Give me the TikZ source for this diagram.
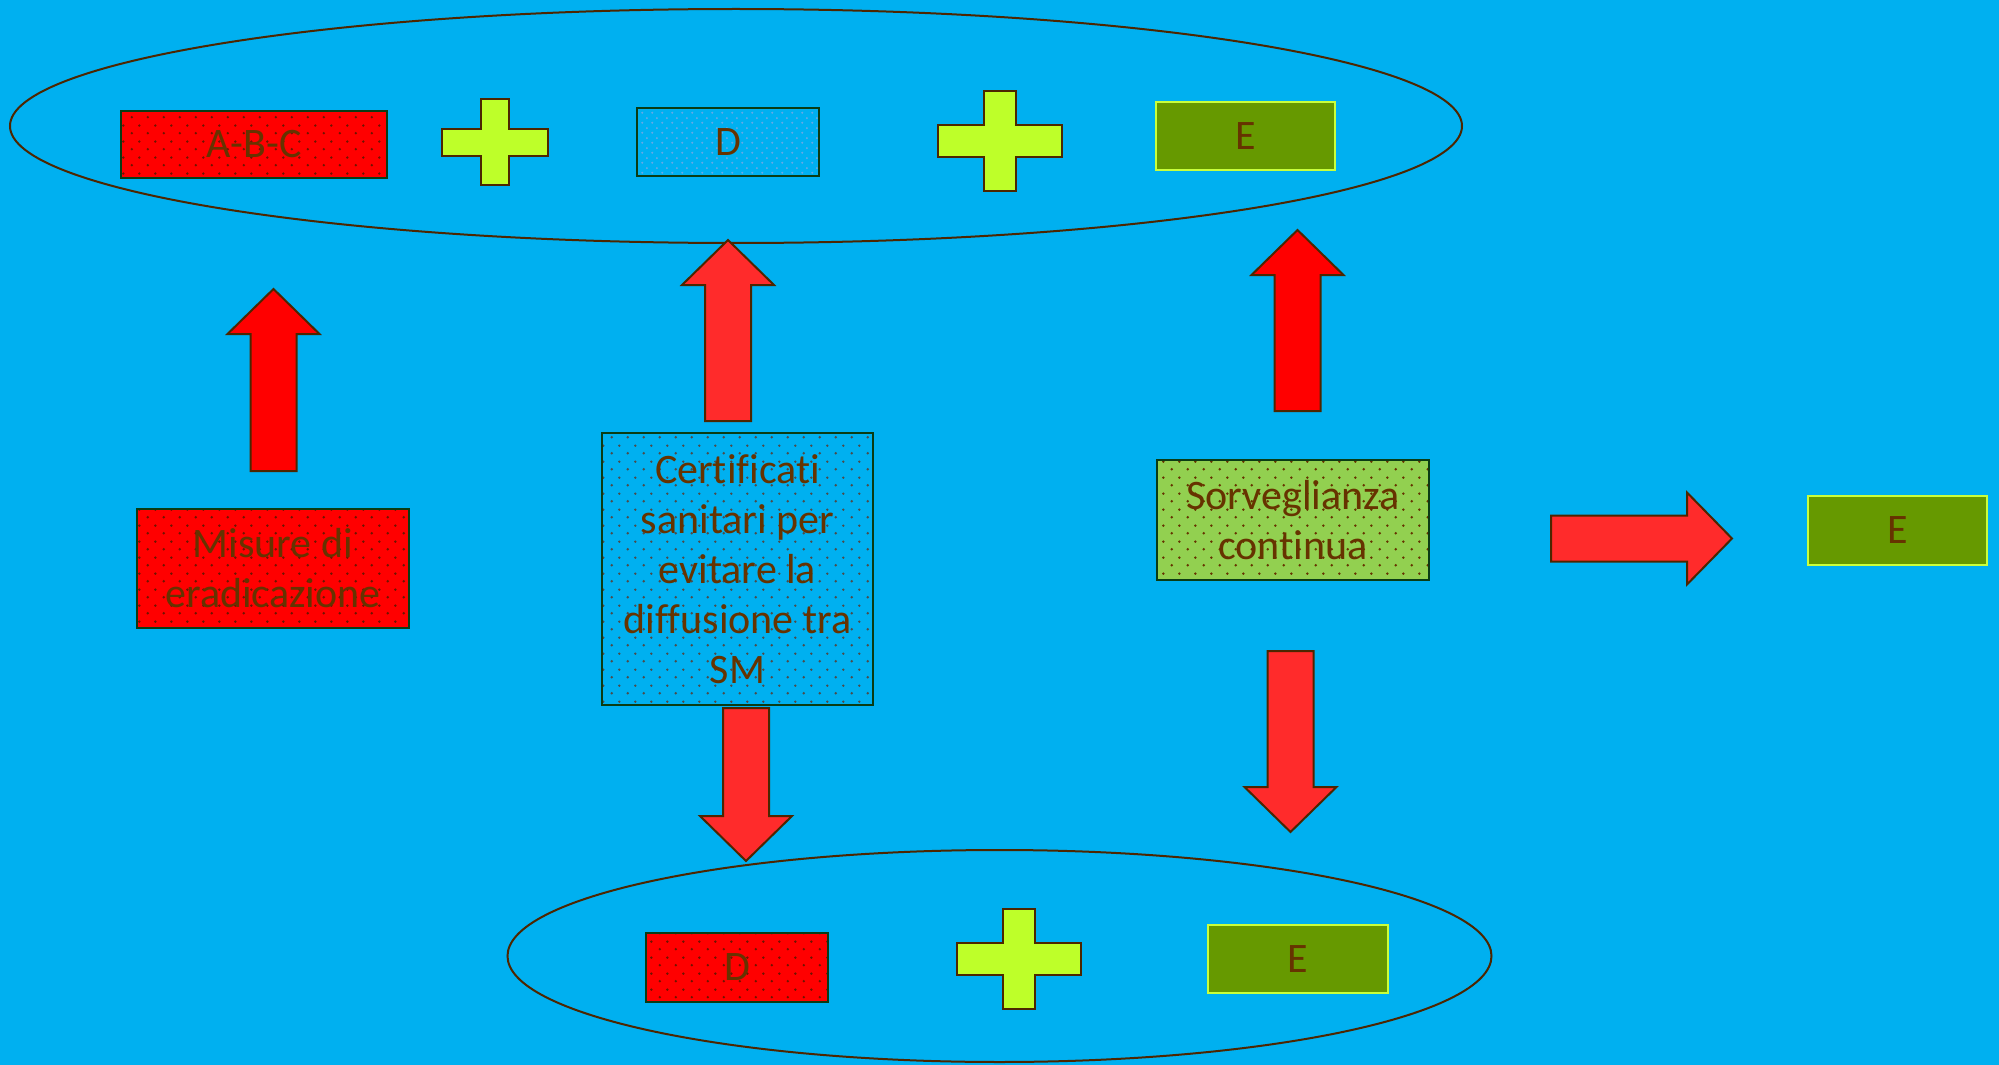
\documentclass[tikz,border=0pt]{standalone}
\usepackage{fontspec}
\setmainfont{Carlito}[Ligatures=NoCommon]
\usetikzlibrary{patterns.meta}

\definecolor{fondo}{RGB}{0,176,240}
\definecolor{marrone}{RGB}{102,51,0}
\definecolor{bordo}{RGB}{77,38,0}
\definecolor{bordoverde}{RGB}{10,60,20}
\definecolor{rossopieno}{RGB}{255,0,0}
\definecolor{rossochiaro}{RGB}{255,43,43}
\definecolor{verdechiaro}{RGB}{146,208,80}
\definecolor{verdescuro}{RGB}{102,153,0}
\definecolor{verdelime}{RGB}{200,255,60}
\definecolor{piu}{RGB}{190,255,41}
\definecolor{puntiblu}{RGB}{100,170,230}
\definecolor{puntiscuri}{RGB}{110,20,0}

\tikzdeclarepattern{
  name=pdots, type=uncolored,
  bottom left={(0pt,0pt)}, top right={(8pt,8pt)},
  tile size={(8pt,8pt)},
  code={\fill (2pt,2pt) circle (0.7pt); \fill (6pt,6pt) circle (0.7pt);}
}
\tikzdeclarepattern{
  name=pfine, type=uncolored,
  bottom left={(0pt,0pt)}, top right={(5pt,5pt)},
  tile size={(5pt,5pt)},
  code={\fill (1.25pt,1.25pt) circle (0.6pt); \fill (3.75pt,3.75pt) circle (0.6pt);}
}

\begin{document}
\begin{tikzpicture}[
        x=0.5pt, y=-0.5pt, % 1 единица = 1 пиксель, ось y вниз
        testo/.style={text=marrone, font=\fontsize{21}{25}\selectfont, align=center, inner sep=0pt},
        box/.style={testo, draw=bordoverde, line width=0.75pt},
        rossobox/.style={box, preaction={fill=rossopieno}, pattern=pdots, pattern color=puntiscuri},
        blubox/.style={box, preaction={fill=fondo}, pattern=pdots, pattern color=black!70},
        blufine/.style={box, preaction={fill=fondo}, pattern=pfine, pattern color=puntiblu},
        verdebox/.style={box, preaction={fill=verdechiaro}, pattern=pdots, pattern color=marrone},
        ebox/.style={testo, draw=verdelime, line width=1pt, fill=verdescuro},
        gruppo/.style={draw=bordo, line width=1pt}, % Стиль эллипсов
        arrowedge/.style={draw=bordo, line width=1pt},
        pics/bigarrow/.style 2 args={code={
            \draw[arrowedge, fill=#2] (0,-23) -- (#1-45,-23) -- (#1-45,-46) -- (#1,0)
                -- (#1-45,46) -- (#1-45,23) -- (0,23) -- cycle;}},
        pics/plussign/.style={code={
            \draw[arrowedge, fill=piu] (-16,-50) -- (16,-50) -- (16,-16) -- (62,-16) -- (62,16)
                -- (16,16) -- (16,50) -- (-16,50) -- (-16,16) -- (-62,16) -- (-62,-16) -- (-16,-16) -- cycle;}},
    ]

    \fill[fondo] (0,0) rectangle (1999,1065);
    \useasboundingbox (0,0) rectangle (1999,1065);

    % эллипсы
    \draw[gruppo] (736,126) ellipse [x radius=726, y radius=117];
    \draw[gruppo] (999.5,956) ellipse [x radius=492, y radius=106];

    % верхний ряд
    \node[rossobox, minimum width=133pt, minimum height=33.5pt] (abc) at (254,144.5) {A-B-C};
    \pic[scale=0.86] (piu1) at (495,142.5) {plussign};
    \node[blufine, minimum width=91pt, minimum height=34pt] (dsu) at (728,142) {D};
    \pic (piu2) at (1000,141.5) {plussign};
    \node[ebox, minimum width=89.5pt, minimum height=34pt] (esu) at (1245.5,136) {E};

    % средний ряд
    \node[rossobox, minimum width=136pt, minimum height=59.5pt] (misure) at (273,568.5) {Misure di\\eradicazione};
    \node[blubox, minimum width=135.5pt, minimum height=136pt] (certificati) at (737.5,569)
        {Certificati\\sanitari per\\evitare la\\diffusione tra\\SM};
    \node[verdebox, minimum width=136pt, minimum height=60pt] (sorveglianza) at (1293,520) {Sorveglianza\\continua};
    \node[ebox, minimum width=89.5pt, minimum height=34.5pt] (edestra) at (1897.5,530.5) {E};

    % нижний ряд
    \node[rossobox, minimum width=91pt, minimum height=34.5pt] (dgiu) at (737,967.5) {D};
    \pic (piu3) at (1018.5,959) {plussign};
    \node[ebox, minimum width=90pt, minimum height=34pt] (egiu) at (1298,959) {E};

    % стрелки
    \pic[rotate=90] (f1) at (273.5,471) {bigarrow={182}{rossopieno}};
    \pic[rotate=90] (f2) at (728,421) {bigarrow={181}{rossochiaro}};
    \pic[rotate=-90] (f3) at (746,708) {bigarrow={153}{rossochiaro}};
    \pic[rotate=90] (f4) at (1297.5,411) {bigarrow={181}{rossopieno}};
    \pic[rotate=-90] (f5) at (1290.5,651) {bigarrow={181}{rossochiaro}};
    \pic (f6) at (1551,538.5) {bigarrow={181}{rossochiaro}};
\end{tikzpicture}
\end{document}
